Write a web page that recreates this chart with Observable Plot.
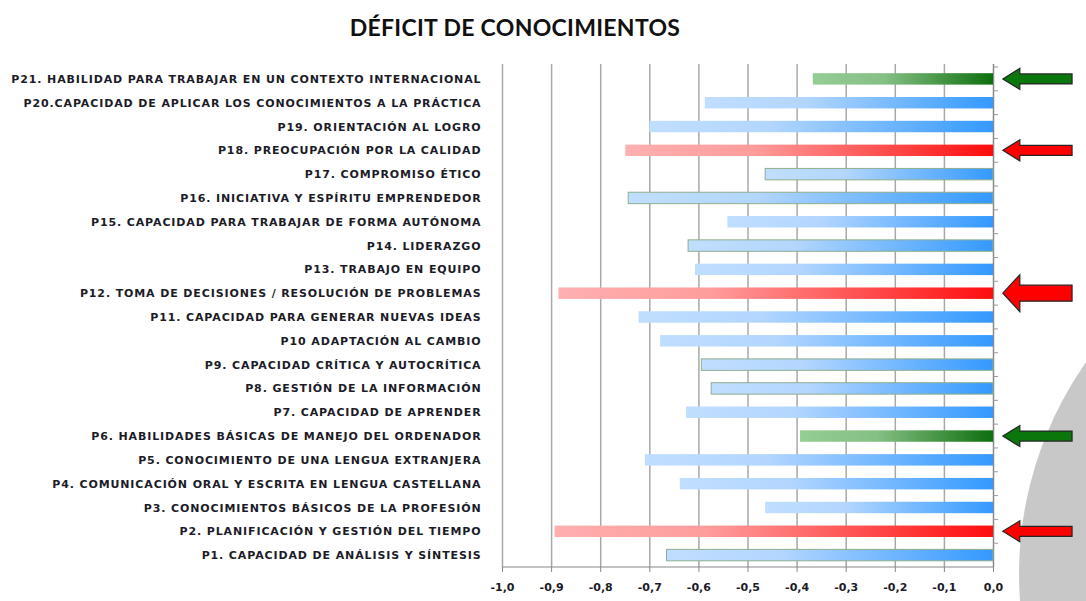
<!DOCTYPE html>
<html><head><meta charset="utf-8">
<script src="https://cdn.jsdelivr.net/npm/d3@7"></script>
<script src="https://cdn.jsdelivr.net/npm/@observablehq/plot@0.6"></script>
<style>
body{margin:0;background:#fff;}
#wrap{position:relative;width:1086px;height:601px;overflow:hidden;background:#fff;}
#deco{position:absolute;left:1019px;top:206px;width:736px;height:736px;border-radius:50%;background:#c8c8c8;}
#title{position:absolute;left:0;top:2px;width:1030px;text-align:center;font-family:Lato,"DejaVu Sans",sans-serif;font-weight:bold;font-size:23px;line-height:50px;color:#111;letter-spacing:0.3px;}
#chart{position:absolute;left:0;top:50px;}
#chart g[aria-label="y-axis tick label"] text{letter-spacing:0.88px;}
</style>
</head><body>
<div id="wrap">
  <div id="deco"></div>
  <div id="title">DÉFICIT DE CONOCIMIENTOS</div>
  <div id="chart"></div>
</div>
<script>
const labels = [
  "P1. CAPACIDAD DE ANÁLISIS Y SÍNTESIS",
  "P2. PLANIFICACIÓN Y GESTIÓN DEL TIEMPO",
  "P3. CONOCIMIENTOS BÁSICOS DE LA PROFESIÓN",
  "P4. COMUNICACIÓN ORAL Y ESCRITA EN LENGUA CASTELLANA",
  "P5. CONOCIMIENTO DE UNA LENGUA EXTRANJERA",
  "P6. HABILIDADES BÁSICAS DE MANEJO DEL ORDENADOR",
  "P7. CAPACIDAD DE APRENDER",
  "P8. GESTIÓN DE LA INFORMACIÓN",
  "P9. CAPACIDAD CRÍTICA Y AUTOCRÍTICA",
  "P10 ADAPTACIÓN AL CAMBIO",
  "P11. CAPACIDAD PARA GENERAR NUEVAS IDEAS",
  "P12. TOMA DE DECISIONES / RESOLUCIÓN DE PROBLEMAS",
  "P13. TRABAJO EN EQUIPO",
  "P14. LIDERAZGO",
  "P15. CAPACIDAD PARA TRABAJAR DE FORMA AUTÓNOMA",
  "P16. INICIATIVA Y ESPÍRITU EMPRENDEDOR",
  "P17. COMPROMISO ÉTICO",
  "P18. PREOCUPACIÓN POR LA CALIDAD",
  "P19. ORIENTACIÓN AL LOGRO",
  "P20.CAPACIDAD DE APLICAR LOS CONOCIMIENTOS A LA PRÁCTICA",
  "P21. HABILIDAD PARA TRABAJAR EN UN CONTEXTO INTERNACIONAL"
];
const values = [-0.665, -0.893, -0.464, -0.638, -0.709, -0.393, -0.625, -0.574, -0.594, -0.678,
                -0.722, -0.885, -0.607, -0.621, -0.541, -0.743, -0.464, -0.749, -0.700, -0.587, -0.367];
const highlight = ["blue","red","blue","blue","blue","green","blue","blue","blue","blue",
                   "blue","red","blue","blue","blue","blue","blue","red","blue","blue","green"];
const outlined = [true,false,false,false,false,false,false,true,true,false,
                  false,false,false,true,false,true,true,false,false,false,false];
const arrowLabels = ["P21. HABILIDAD PARA TRABAJAR EN UN CONTEXTO INTERNACIONAL",
                     "P18. PREOCUPACIÓN POR LA CALIDAD",
                     "P12. TOMA DE DECISIONES / RESOLUCIÓN DE PROBLEMAS",
                     "P6. HABILIDADES BÁSICAS DE MANEJO DEL ORDENADOR",
                     "P2. PLANIFICACIÓN Y GESTIÓN DEL TIEMPO"];
const arrowKinds = ["green","red","red","green","red"];
const arrowBig = [false,false,true,false,false];
const xTicks = [-1,-0.9,-0.8,-0.7,-0.6,-0.5,-0.4,-0.3,-0.2,-0.1,0];

const data = labels.map((label, i) => ({label, value: values[i], kind: highlight[i], outlined: outlined[i]}));
const arrows = arrowLabels.map((label, i) => ({label, kind: arrowKinds[i], big: arrowBig[i]}));
const yDomain = labels.slice().reverse();

const ns = "http://www.w3.org/2000/svg";
function el(name, attrs) {
  const e = document.createElementNS(ns, name);
  for (const k in attrs) e.setAttribute(k, attrs[k]);
  return e;
}
function defsMark() {
  const defs = el("defs", {});
  const grads = {
    gblue: [["0%","#c0deff"],["35%","#b3d6ff"],["100%","#3399ff"]],
    gred: [["0%","#ffb0b0"],["35%","#ff9c9c"],["100%","#ff0d0d"]],
    ggreen: [["0%","#95cd95"],["40%","#84bf84"],["100%","#0d6f0d"]]
  };
  for (const id in grads) {
    const g = el("linearGradient", {id, x1:"0", x2:"1", y1:"0", y2:"0"});
    for (const [o,c] of grads[id]) g.appendChild(el("stop", {offset:o, "stop-color":c}));
    defs.appendChild(g);
  }
  return defs;
}
function decoMark(index, scales, values, dimensions) {
  const g = el("g", {});
  const x = scales.x, y = scales.y;
  const bw = y.bandwidth(), step = y.step();
  const bottom = dimensions.height - dimensions.marginBottom;
  g.appendChild(el("line", {x1: x(-1), x2: x(0), y1: bottom, y2: bottom, stroke:"#888", "stroke-width":1.2}));
  const pad = (step - bw) / 2;
  for (const lab of yDomain) {
    const yy = y(lab) - pad;
    g.appendChild(el("line", {x1: x(0), x2: x(0) + 5, y1: yy, y2: yy, stroke:"#999", "stroke-width":1}));
  }
  const tipX = x(0.02), tailX = x(0.161), head = 17;
  for (const a of arrows) {
    const cy = y(a.label) + bw / 2;
    const hh = a.big ? 18.5 : 10.5, sh = a.big ? 8 : 5;
    const pts = [[tipX,cy],[tipX+head,cy-hh],[tipX+head,cy-sh],[tailX,cy-sh],[tailX,cy+sh],[tipX+head,cy+sh],[tipX+head,cy+hh]];
    g.appendChild(el("polygon", {points: pts.map(p => p.join(",")).join(" "),
      fill: a.kind === "red" ? "#ff0000" : "#0b760b", stroke:"#262626", "stroke-width":1.2, "stroke-linejoin":"miter"}));
  }
  return g;
}

const fmt = d => d.toFixed(1).replace(".", ",");

const chart = Plot.plot({
  width: 1086,
  height: 551,
  marginLeft: 502,
  marginRight: 0,
  marginTop: 17,
  marginBottom: 34,
  style: {fontFamily: "'DejaVu Sans', sans-serif", fontSize: "11px", fontWeight: "bold", color: "#1c1c28", background: "transparent"},
  x: {domain: [-1, 0.1894], axis: null},
  y: {domain: yDomain, paddingInner: 0.52, paddingOuter: 0.26, round: false, axis: null},
  marks: [
    defsMark,
    Plot.ruleX(xTicks, {x: d => d, stroke: d => d === 0 ? "#8a8a8a" : "#a8a8a8", strokeWidth: 1.5, insetTop: -3}),
    Plot.barX(data, {filter: d => d.kind === "blue", x1: "value", x2: 0, y: "label", fill: "url(#gblue)"}),
    Plot.barX(data, {filter: d => d.kind === "red", x1: "value", x2: 0, y: "label", fill: "url(#gred)"}),
    Plot.barX(data, {filter: d => d.kind === "green", x1: "value", x2: 0, y: "label", fill: "url(#ggreen)"}),
    Plot.barX(data, {filter: d => d.outlined, x1: "value", x2: 0, y: "label", fill: "none", stroke: "#8fae8f", strokeWidth: 1}),
    Plot.axisY({tickSize: 0, tickPadding: 21, fill: "#1c1c28", label: null}),
    Plot.axisX({ticks: xTicks, tickFormat: fmt, tickSize: 5, tickPadding: 11, stroke: "#888", fill: "#1c1c28", label: null}),
    decoMark
  ]
});
document.getElementById("chart").appendChild(chart);
</script>
</body></html>
